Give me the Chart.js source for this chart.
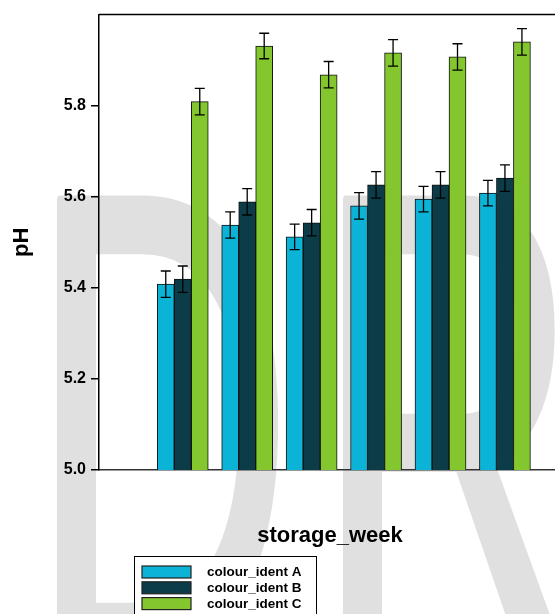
<!DOCTYPE html>
<html>
<head>
<meta charset="utf-8">
<script src="https://cdn.jsdelivr.net/npm/chart.js@4/dist/chart.umd.min.js"></script>
<style>
  html, body { margin: 0; padding: 0; background: #fff; overflow: hidden; }
  canvas { display: block; }
</style>
</head>
<body>
<canvas id="chart" width="600" height="614"></canvas>
<script>
// pH per storage week, three colour groups
const weeks = [1, 2, 3, 4, 5, 6];
const seriesNames = ['colour_ident A', 'colour_ident B', 'colour_ident C'];
const phA = [5.408, 5.538, 5.512, 5.580, 5.595, 5.608];
const phB = [5.419, 5.589, 5.543, 5.626, 5.626, 5.641];
const phC = [5.809, 5.931, 5.868, 5.916, 5.907, 5.940];
const errA = [0.029, 0.029, 0.028, 0.029, 0.028, 0.028];
const errB = [0.029, 0.029, 0.029, 0.029, 0.029, 0.029];
const errC = [0.029, 0.028, 0.029, 0.029, 0.029, 0.029];
const yTicks = [5.0, 5.2, 5.4, 5.6, 5.8];

const colours = ['#0bb4d7', '#0b3c48', '#83c62d'];
const FONT = '"Liberation Sans", Arial, sans-serif';

const toPoints = (vals) => vals.map((v, i) => ({ x: weeks[i], y: v }));

// big grey letters behind everything
const watermark = {
  id: 'watermark',
  beforeDraw(chart) {
    const ctx = chart.ctx;
    ctx.save();
    ctx.fillStyle = '#e0e0e0';
    ctx.strokeStyle = '#e0e0e0';
    ctx.lineWidth = 5;
    ctx.lineJoin = 'round';
    ctx.font = '365px ' + FONT;
    ctx.textBaseline = 'alphabetic';
    [['D', 29.5], ['R', 315.5]].forEach(([ch, x]) => {
      ctx.save();
      ctx.translate(x, 657);
      ctx.scale(1, 1.82);
      ctx.fillText(ch, 0, 0);
      ctx.strokeText(ch, 0, 0);
      ctx.restore();
    });
    ctx.restore();
  }
};

// whiskers on top of each bar
const errorBars = {
  id: 'errorBars',
  afterDatasetsDraw(chart) {
    const ctx = chart.ctx;
    const y = chart.scales.y;
    ctx.save();
    ctx.strokeStyle = '#000';
    ctx.lineWidth = 1.3;
    chart.data.datasets.forEach((ds, i) => {
      const meta = chart.getDatasetMeta(i);
      meta.data.forEach((bar, j) => {
        const v = ds.data[j].y;
        const e = ds.errors[j];
        const top = y.getPixelForValue(v + e);
        const bot = y.getPixelForValue(v - e);
        const cap = 5;
        ctx.beginPath();
        ctx.moveTo(bar.x, top);
        ctx.lineTo(bar.x, bot);
        ctx.moveTo(bar.x - cap, top);
        ctx.lineTo(bar.x + cap, top);
        ctx.moveTo(bar.x - cap, bot);
        ctx.lineTo(bar.x + cap, bot);
        ctx.stroke();
      });
    });
    ctx.restore();
  }
};

// frame line along the top of the plot + boxed legend under the axis title
const frameAndLegend = {
  id: 'frameAndLegend',
  afterDraw(chart) {
    const ctx = chart.ctx;
    const a = chart.chartArea;
    ctx.save();
    ctx.strokeStyle = '#000';
    ctx.lineWidth = 1.5;
    ctx.beginPath();
    ctx.moveTo(a.left, a.top);
    ctx.lineTo(a.right, a.top);
    ctx.lineTo(a.right, a.bottom);
    ctx.stroke();

    const lx = a.left + 35;
    const ly = a.bottom + 86;
    ctx.fillStyle = '#fff';
    ctx.fillRect(lx, ly, 182, 70);
    ctx.lineWidth = 1;
    ctx.strokeRect(lx + 0.5, ly + 0.5, 182, 70);

    ctx.font = 'bold 13.5px ' + FONT;
    ctx.textBaseline = 'middle';
    ctx.textAlign = 'left';
    chart.data.datasets.forEach((ds, i) => {
      const rowY = ly + 16 + i * 15.8;
      ctx.fillStyle = ds.backgroundColor;
      ctx.fillRect(lx + 8, rowY - 6, 49, 12);
      ctx.strokeStyle = '#222';
      ctx.lineWidth = 1.2;
      ctx.strokeRect(lx + 8, rowY - 6, 49, 12);
      ctx.fillStyle = '#000';
      ctx.fillText(ds.label, lx + 73, rowY + 0.5);
    });
    ctx.restore();
  }
};

const makeSet = (i, vals, errs) => ({
  label: seriesNames[i],
  data: toPoints(vals),
  errors: errs,
  backgroundColor: colours[i],
  borderColor: '#111',
  borderWidth: 1,
  barThickness: 17
});

new Chart(document.getElementById('chart'), {
  type: 'bar',
  data: {
    datasets: [
      makeSet(0, phA, errA),
      makeSet(1, phB, errB),
      makeSet(2, phC, errC)
    ]
  },
  options: {
    responsive: false,
    animation: false,
    layout: { padding: { top: 12, right: 39, left: 0, bottom: 0 } },
    plugins: {
      legend: { display: false },
      tooltip: { enabled: false }
    },
    scales: {
      x: {
        type: 'linear',
        offset: false,
        min: -0.3,
        max: 6.87,
        ticks: { display: false },
        grid: { display: false, drawTicks: false, offset: false },
        border: { display: true, color: '#333', width: 1.5 },
        title: {
          display: true,
          text: 'storage_week',
          color: '#000',
          font: { family: FONT, size: 22, weight: 'bold' },
          padding: { top: 53, bottom: 65 }
        },
        afterFit: (scale) => { scale.height = 144; }
      },
      y: {
        min: 5.0,
        max: 6.0,
        afterBuildTicks: (scale) => {
          scale.ticks = yTicks.map(v => ({ value: v }));
        },
        ticks: {
          color: '#000',
          padding: 5,
          font: { family: FONT, size: 16, weight: 'bold' },
          callback: (v) => Number(v).toFixed(1)
        },
        grid: {
          drawOnChartArea: false,
          drawTicks: true,
          tickLength: 8,
          color: '#000',
          lineWidth: 1.5
        },
        border: { display: true, color: '#000', width: 1.5 },
        title: {
          display: true,
          text: 'pH',
          color: '#000',
          font: { family: FONT, size: 22, weight: 'bold' },
          padding: { top: 9, bottom: 0 }
        },
        afterFit: (scale) => { scale.width = 99; }
      }
    }
  },
  plugins: [watermark, errorBars, frameAndLegend]
});
</script>
</body>
</html>
